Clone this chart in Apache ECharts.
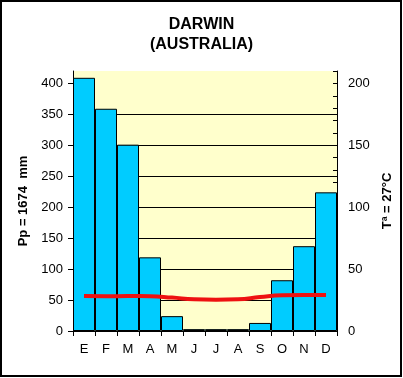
<!DOCTYPE html>
<html>
<head>
<meta charset="utf-8">
<script src="https://cdn.jsdelivr.net/npm/echarts@6/dist/echarts.min.js"></script>
<style>
html,body{margin:0;padding:0;background:#fff;}
#c{width:403px;height:378px;}
</style>
</head>
<body>
<div id="c"></div>
<script>
var months = ['E','F','M','A','M','J','J','A','S','O','N','D'];
var precipitation = [409, 359, 301, 119, 24, 3, 3, 3, 13, 82, 137, 224];
var temperature = [28.2, 28.1, 28.2, 28.1, 27.0, 25.6, 25.3, 25.6, 27.4, 28.8, 29.0, 29.0];
var leftTicks = [0, 50, 100, 150, 200, 250, 300, 350, 400];
var rightLabels = [0, 50, 100, 150, 200];

var chart = echarts.init(document.getElementById('c'), null, {renderer: 'canvas'});
var font = 'Arial, "Liberation Sans", sans-serif';
chart.setOption({
  animation: false,
  backgroundColor: '#ffffff',
  title: {
    text: 'DARWIN\n(AUSTRALIA)',
    left: 'center',
    top: 10,
    textStyle: {fontFamily: font, fontSize: 16, fontWeight: 'bold', color: '#000', lineHeight: 20}
  },
  graphic: [{
    type: 'rect',
    shape: {x: 1, y: 1, width: 400, height: 375},
    style: {fill: 'none', stroke: '#000', lineWidth: 2},
    silent: true
  }],
  grid: {
    left: 73, right: 66, top: 71, bottom: 47,
    show: true, backgroundColor: '#FFFFCC', borderWidth: 0
  },
  xAxis: {
    type: 'category',
    data: months,
    axisLine: {lineStyle: {color: '#000', width: 1}},
    axisTick: {show: true, length: 5, lineStyle: {color: '#000'}},
    axisLabel: {color: '#000', fontFamily: font, fontSize: 13, margin: 12}
  },
  yAxis: [{
    type: 'value',
    min: 0, max: 420, interval: 50,
    name: 'Pp = 1674  mm',
    nameLocation: 'middle',
    nameGap: 42,
    nameRotate: 90,
    nameTextStyle: {fontFamily: font, fontSize: 13, fontWeight: 'bold', color: '#000'},
    axisLine: {show: true, lineStyle: {color: '#000', width: 1}},
    axisTick: {show: true, length: 5, lineStyle: {color: '#000'}, customValues: leftTicks},
    axisLabel: {color: '#000', fontFamily: font, fontSize: 13, margin: 10, customValues: leftTicks},
    splitLine: {show: true, showMaxLine: false, showMinLine: false, lineStyle: {color: '#000', width: 1}}
  }, {
    type: 'value',
    min: 0, max: 210, interval: 10,
    position: 'right',
    name: 'Tª = 27°C',
    nameLocation: 'middle',
    nameGap: 44,
    nameRotate: 90,
    nameTextStyle: {fontFamily: font, fontSize: 13, fontWeight: 'bold', color: '#000'},
    axisLine: {show: true, lineStyle: {color: '#000', width: 1}},
    axisTick: {show: true, inside: true, length: 4, lineStyle: {color: '#000'}},
    axisLabel: {color: '#000', fontFamily: font, fontSize: 13, margin: 11,
      customValues: rightLabels},
    splitLine: {show: false}
  }],
  series: [{
    type: 'bar',
    data: precipitation,
    barCategoryGap: '0%',
    itemStyle: {color: '#00CCFF', borderColor: '#000', borderWidth: 1}
  }, {
    type: 'line',
    yAxisIndex: 1,
    data: temperature,
    smooth: true,
    showSymbol: false,
    lineStyle: {color: '#EE1111', width: 4}
  }]
});
</script>
</body>
</html>
